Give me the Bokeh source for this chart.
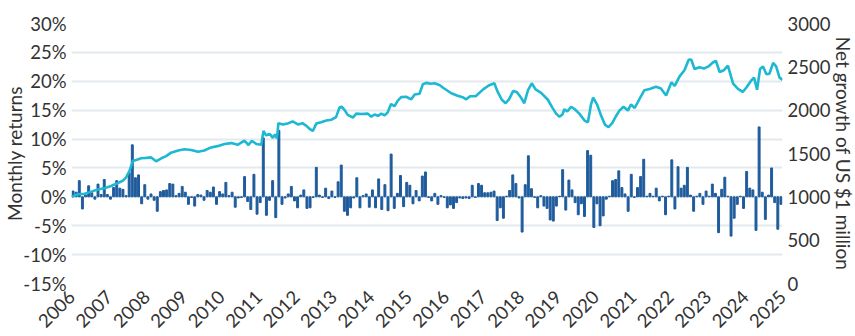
import math
from bokeh.plotting import figure
from bokeh.models import Range1d, LinearAxis, FixedTicker, PrintfTickFormatter, ColumnDataSource
from bokeh.embed import file_html
from bokeh.resources import INLINE

# Monthly returns (%) per year, Jan..Dec
r2006 = [1.0, 0.8, 2.8, -2.1, 0.3, 1.9, 0.7, -0.4, 2.2, 0.4, 3.0, 0.4]
r2007 = [-0.4, 1.6, 2.8, 1.5, 1.3, 0.2, 4.2, 9.0, 3.3, 3.8, -1.2, 2.1]
r2008 = [-0.4, 0.5, -0.6, -2.5, 0.9, 1.1, 1.2, 2.3, 2.2, 0.2, 0.6, 1.8]
r2009 = [0.8, -1.3, -0.1, -1.6, 0.4, 0.3, -0.6, 1.1, 0.8, 1.7, -1.3, 0.9]
r2010 = [0.5, 2.5, 0.2, 0.8, -1.8, -0.2, -0.1, 3.5, -0.8, -2.2, 3.9, -3.0]
r2011 = [-1.0, 10.2, -3.2, -0.6, 2.8, -3.6, 11.5, -1.3, -0.2, 0.5, 1.8, -0.7]
r2012 = [-1.9, 0.3, 1.2, -2.0, -1.9, -0.1, 5.1, 0.3, -0.1, 1.5, -0.3, 1.0]
r2013 = [-0.1, 2.6, 5.5, -2.5, -3.2, -1.9, -0.2, 3.3, -1.9, 0.2, 0.5, -1.8]
r2014 = [1.2, -1.9, 3.1, -2.2, 2.1, -2.4, 7.4, -2.0, 0.6, 3.7, -1.7, 2.5]
r2015 = [2.0, -1.2, 1.1, -0.7, 3.6, 4.3, -0.1, -0.7, 0.6, -1.3, 0.2, -0.1]
r2016 = [-1.9, -1.4, -2.0, -1.0, -0.2, -0.3, -0.2, -0.3, 2.0, -0.1, 2.3, 2.0]
r2017 = [0.7, 0.7, 0.8, 1.0, -4.1, -1.9, -3.7, 0.1, 1.1, 3.8, 2.3, -0.2]
r2018 = [-6.1, 2.1, 7.1, 1.4, -0.1, -1.9, 0.2, -1.6, -2.0, -4.0, -4.2, -1.6]
r2019 = [0.1, 4.7, -2.3, 2.9, 1.2, -1.0, -3.1, -1.2, -3.4, 8.0, 7.2, -5.3]
r2020 = [-1.2, -5.0, -3.3, -0.4, 0.1, 2.8, 3.0, 4.5, 1.6, 0.5, -2.5, 3.9]
r2021 = [-0.1, 1.6, 3.5, 6.5, 0.1, 0.6, 0.1, 1.5, -0.7, 0.1, -3.1, 0.1]
r2022 = [6.4, -2.1, 5.2, 1.5, 2.0, 5.1, 0.3, -2.5, 0.1, 0.6, -1.3, 1.0]
r2023 = [0.1, 2.2, 0.6, -6.2, 1.3, 3.4, 0.1, -6.8, -3.7, -1.3, 0.1, -2.0]
r2024 = [4.4, 1.5, 1.2, -5.8, 12.1, 0.8, -3.9, 0.3, 5.0, -1.0, -5.6, -1.3]

years = list(range(2006, 2025))
year_ticks = list(range(2006, 2026))
left_ticks = [-15, -10, -5, 0, 5, 10, 15, 20, 25, 30]
right_ticks = [0, 500, 1000, 1500, 2000, 2500, 3000]

# Net growth of US $1 million (thousands of US$), read at dates (fractional years)
line_dates = [2006.00, 2006.17, 2006.35, 2006.53, 2006.70, 2006.88, 2007.06, 2007.24, 2007.37, 2007.46,
              2007.55, 2007.64, 2007.73, 2007.86, 2008.00, 2008.13, 2008.26, 2008.40, 2008.53, 2008.66,
              2008.85, 2009.02, 2009.20, 2009.38, 2009.55, 2009.73, 2009.90, 2010.09, 2010.27, 2010.44,
              2010.62, 2010.73, 2010.82, 2010.94, 2011.07, 2011.13, 2011.20, 2011.30, 2011.38, 2011.44,
              2011.49, 2011.53, 2011.65, 2011.80, 2011.91, 2012.05, 2012.17, 2012.27, 2012.36, 2012.45,
              2012.54, 2012.67, 2012.81, 2012.95, 2013.07, 2013.16, 2013.22, 2013.30, 2013.38, 2013.52,
              2013.61, 2013.75, 2013.92, 2014.01, 2014.10, 2014.19, 2014.28, 2014.37, 2014.45, 2014.54,
              2014.63, 2014.72, 2014.81, 2014.94, 2015.08, 2015.17, 2015.30, 2015.39, 2015.48, 2015.60,
              2015.70, 2015.83, 2015.96, 2016.15, 2016.30, 2016.45, 2016.55, 2016.65, 2016.80, 2017.00,
              2017.15, 2017.30, 2017.38, 2017.50, 2017.60, 2017.70, 2017.80, 2017.90, 2018.02, 2018.10,
              2018.20, 2018.30, 2018.40, 2018.55, 2018.73, 2018.85, 2018.95, 2019.04, 2019.12, 2019.17,
              2019.25, 2019.35, 2019.45, 2019.57, 2019.71, 2019.80, 2019.88, 2019.94, 2020.05, 2020.15,
              2020.26, 2020.35, 2020.45, 2020.55, 2020.64, 2020.75, 2020.87, 2020.95, 2021.05, 2021.18,
              2021.31, 2021.45, 2021.62, 2021.75, 2021.89, 2022.03, 2022.12, 2022.25, 2022.38, 2022.49,
              2022.56, 2022.65, 2022.78, 2022.90, 2023.02, 2023.14, 2023.22, 2023.32, 2023.43, 2023.54,
              2023.68, 2023.81, 2023.94, 2024.04, 2024.16, 2024.24, 2024.32, 2024.40, 2024.48, 2024.57,
              2024.65, 2024.75, 2024.83, 2024.92, 2025.00]
line_values = [1000, 1030, 1035, 1060, 1085, 1100, 1125, 1160, 1185, 1225,
               1300, 1415, 1425, 1445, 1450, 1455, 1410, 1445, 1470, 1510,
               1535, 1550, 1540, 1520, 1535, 1570, 1585, 1610, 1620, 1600,
               1648, 1598, 1645, 1610, 1600, 1760, 1710, 1725, 1680, 1720,
               1675, 1850, 1835, 1850, 1870, 1835, 1850, 1822, 1785, 1760,
               1845, 1860, 1880, 1890, 1920, 2030, 2040, 2000, 1945, 1915,
               1960, 1955, 1960, 1925, 1950, 1935, 1960, 1940, 1975, 2070,
               2045, 2110, 2150, 2155, 2125, 2180, 2190, 2300, 2315, 2305,
               2310, 2290, 2250, 2195, 2170, 2150, 2125, 2160, 2160, 2240,
               2285, 2310, 2220, 2120, 2080, 2130, 2220, 2210, 2140, 2080,
               2230, 2310, 2240, 2200, 2120, 2030, 1960, 1925, 1950, 2010,
               1985, 2040, 2010, 1960, 1880, 1860, 2060, 2145, 2060, 1940,
               1830, 1805, 1850, 1930, 1995, 2040, 1995, 2065, 2025, 2130,
               2230, 2245, 2270, 2250, 2170, 2320, 2280, 2390, 2460, 2580,
               2585, 2475, 2495, 2480, 2505, 2550, 2570, 2440, 2460, 2515,
               2305, 2245, 2210, 2265, 2340, 2375, 2235, 2475, 2505, 2415,
               2420, 2545, 2505, 2375, 2350]

returns = []
for row in [r2006, r2007, r2008, r2009, r2010, r2011, r2012, r2013, r2014, r2015,
            r2016, r2017, r2018, r2019, r2020, r2021, r2022, r2023, r2024]:
    returns.extend(row)
month_x = [years[0] + (i + 0.5) / 12 for i in range(len(returns))]

FONT = "Lato"
TXT = "#333333"
BAR = "#1f5b9c"
LINE = "#1db8d2"

p = figure(frame_width=711, frame_height=260, output_backend="svg", toolbar_location=None,
           x_range=Range1d(2006, 2025), y_range=Range1d(-15, 30),
           min_border_left=67, min_border_right=77, min_border_top=23, min_border_bottom=53,
           y_axis_label="Monthly returns")
p.extra_y_ranges = {"growth": Range1d(0, 3000)}
p.outline_line_color = None
p.background_fill_color = "white"
p.border_fill_color = "white"
p.xgrid.visible = False
p.ygrid.grid_line_color = "#e3e9ed"
p.ygrid.grid_line_width = 2
p.ygrid.ticker = FixedTicker(ticks=left_ticks)

bars = ColumnDataSource(dict(x=month_x, top=returns))
p.vbar(x="x", top="top", bottom=0, width=0.62 / 12, source=bars, color=BAR)
growth = ColumnDataSource(dict(x=line_dates, y=line_values))
p.line(x="x", y="y", source=growth, y_range_name="growth", color=LINE, line_width=2.6)

yl = p.yaxis[0]
yl.ticker = FixedTicker(ticks=left_ticks)
yl.formatter = PrintfTickFormatter(format="%d%%")

xa = p.xaxis[0]
xa.ticker = FixedTicker(ticks=year_ticks)
xa.formatter = PrintfTickFormatter(format="%d")

ra = LinearAxis(y_range_name="growth", ticker=FixedTicker(ticks=right_ticks),
                axis_label="Net growth of US $1 million")
p.add_layout(ra, "right")

for ax in [yl, xa, ra]:
    ax.axis_line_color = None
    ax.major_tick_line_color = None
    ax.minor_tick_line_color = None
    ax.major_tick_in = 0
    ax.major_tick_out = 0
    ax.minor_tick_in = 0
    ax.minor_tick_out = 0
    ax.major_label_text_font = FONT
    ax.major_label_text_font_size = "18.5px"
    ax.major_label_text_color = TXT
    ax.axis_label_text_font = FONT
    ax.axis_label_text_font_size = "19px"
    ax.axis_label_text_font_style = "normal"
    ax.axis_label_text_color = TXT
    ax.major_label_standoff = 4
    ax.axis_label_standoff = 0

yl.major_label_standoff = 5
yl.axis_label_standoff = -6
xa.major_label_standoff = 10
xa.major_label_orientation = 0.785398
ra.major_label_standoff = 5
ra.axis_label_standoff = -1

open("out.html", "w").write(file_html(p, INLINE))
